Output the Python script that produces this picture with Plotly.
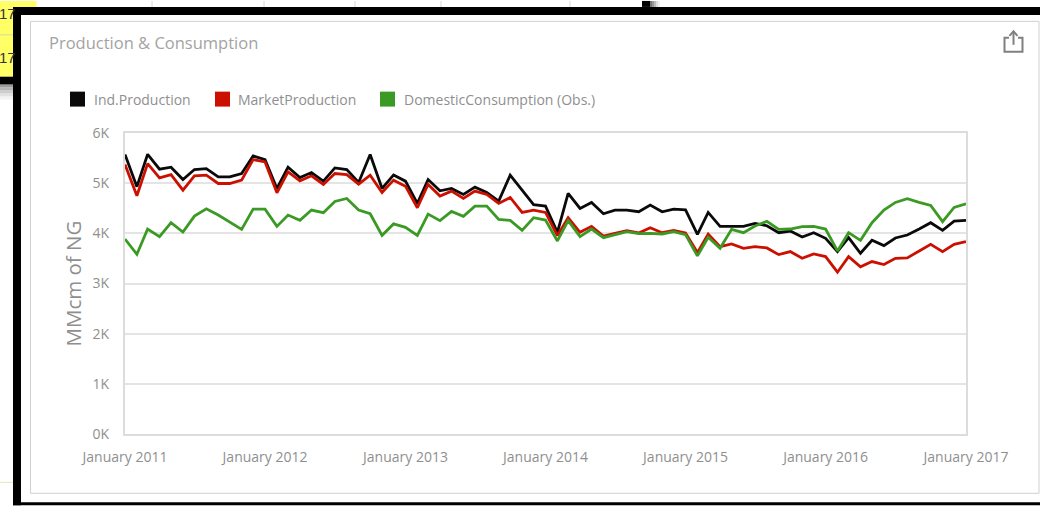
import pandas as pd
import plotly.graph_objects as go

TITLE = "Production & Consumption"
Y_TITLE = "MMcm of NG"
SERIES_NAMES = ["Ind.Production", "MarketProduction", "DomesticConsumption (Obs.)"]
SERIES_COLORS = ["#0a0a0a", "#cc1000", "#3a9a24"]
Y_TICK_VALUES = [0, 1000, 2000, 3000, 4000, 5000, 6000]
Y_TICK_LABELS = ["0K", "1K", "2K", "3K", "4K", "5K", "6K"]
DATES = pd.date_range("2011-01-01", "2017-01-01", freq="MS")

IND_PRODUCTION = [
    5570, 4930, 5576, 5278, 5318, 5073, 5272, 5291, 5126, 5126, 5192, 5543,
    5470, 4894, 5318, 5113, 5212, 5040, 5305, 5272, 5013, 5570, 4894, 5165,
    5040, 4596, 5073, 4848, 4894, 4775, 4920, 4815, 4642, 5159, 4860, 4570,
    4543, 4020, 4795, 4497, 4616, 4390, 4464, 4464, 4430, 4563, 4430, 4483,
    4467, 3980, 4417, 4139, 4139, 4139, 4199, 4152, 4013, 4046, 3927, 4013,
    3900, 3636, 3914, 3603, 3861, 3755, 3907, 3967, 4086, 4212, 4060, 4245,
    4258,
]
MARKET_PRODUCTION = [
    5370, 4748, 5390, 5106, 5172, 4861, 5146, 5159, 4993, 4993, 5060, 5470,
    5424, 4808, 5225, 5046, 5146, 4974, 5192, 5172, 4980, 5159, 4815, 5060,
    4940, 4510, 4974, 4742, 4841, 4695, 4841, 4775, 4596, 4715, 4417, 4464,
    4417, 3954, 4311, 4020, 4139, 3947, 4000, 4053, 4007, 4113, 4013, 4060,
    4005, 3616, 3987, 3735, 3788, 3702, 3735, 3709, 3576, 3636, 3503, 3589,
    3536, 3225, 3536, 3331, 3437, 3377, 3503, 3510, 3649, 3781, 3636, 3781,
    3834,
]
DOMESTIC_CONSUMPTION = [
    3887, 3583, 4086, 3934, 4212, 4026, 4344, 4490, 4364, 4218, 4079, 4483,
    4483, 4139, 4364, 4258, 4464, 4411, 4636, 4695, 4464, 4390, 3960, 4188,
    4120, 3960, 4384, 4252, 4437, 4338, 4543, 4543, 4278, 4258, 4060, 4311,
    4265, 3848, 4252, 3934, 4086, 3914, 3974, 4033, 3993, 4000, 3987, 4033,
    3975, 3550, 3921, 3702, 4079, 4013, 4146, 4238, 4079, 4086, 4132, 4139,
    4086, 3649, 4013, 3861, 4212, 4464, 4616, 4689, 4616, 4556, 4232, 4517,
    4589,
]

W, H = 1040, 506
L, R, T, B = 125, 966, 132.5, 434.5
def px(x): return (x - L) / (R - L)
def py(y): return (B - y) / (B - T)
TEXT = "#8f8f8f"
FONT = "Open Sans"

shapes = []
def rect(x0, y0, x1, y1, fill, line=None):
    shapes.append(dict(type="rect", xref="paper", yref="paper", layer="below",
                       x0=px(x0), x1=px(x1), y0=py(y0), y1=py(y1),
                       fillcolor=fill, line=dict(width=1 if line else 0, color=line or fill)))
def vline(x, y0, y1, color):
    shapes.append(dict(type="line", xref="paper", yref="paper", layer="below",
                       x0=px(x), x1=px(x), y0=py(y0), y1=py(y1), line=dict(color=color, width=1)))

# Surrounding screenshot: spreadsheet cells and window frame
rect(0, 0, 36.5, 76, "#ffff66")
shapes.append(dict(type="line", xref="paper", yref="paper", layer="below", x0=px(0), x1=px(36), y0=py(34), y1=py(34),
                   line=dict(color="#d8d8a0", width=1)))
for x in [152, 264, 355, 441, 570]:
    vline(x, 0, 6, "#d8d8d8")
rect(642, 0, 650, 6, "#000000")
for i, c in enumerate(["#777777", "#999999", "#bbbbbb", "#dddddd", "#f0f0f0"]):
    rect(650 + 2 * i, 0, 652 + 2 * i, 6, c)
rect(0, 76, 13, 84, "#000000")
for i, c in enumerate(["#9a9a9a", "#b5b5b5", "#cdcdcd", "#e2e2e2", "#f3f3f3"]):
    rect(0, 84 + 3 * i, 13, 87 + 3 * i, c)
rect(0, 482.5, 13, 483.5, "#dfeab8")
rect(21, 14, 1040, 503, "#ffffff")
rect(13, 6, 1040, 14, "#000000")
rect(13, 6, 21, 506, "#000000")
rect(13, 503, 1040, 506, "#000000")
rect(30.5, 20.5, 1039, 494, "#ffffff", "#d0d0d0")

# Legend
for x0, color in zip([70, 215, 380], SERIES_COLORS):
    rect(x0, 91, x0 + 15, 106, color)

# Share icon
def P(pts):
    return " ".join(("M" if i == 0 else "L") + f"{px(a):.5f},{py(b):.5f}" for i, (a, b) in enumerate(pts))
for pts in [[(1009, 37), (1004.5, 37), (1004.5, 51), (1022.5, 51), (1022.5, 37), (1018, 37)],
            [(1013.5, 44), (1013.5, 31)],
            [(1009.5, 35), (1013.5, 30.5), (1017.5, 35)]]:
    shapes.append(dict(type="path", xref="paper", yref="paper", path=P(pts), line=dict(color="#808080", width=2)))

fig = go.Figure()
for name, vals, color in zip(SERIES_NAMES, [IND_PRODUCTION, MARKET_PRODUCTION, DOMESTIC_CONSUMPTION], SERIES_COLORS):
    fig.add_trace(go.Scatter(x=DATES, y=vals, name=name, mode="lines",
                             line=dict(color=color, width=2.8), showlegend=False))

annotations = [dict(xref="paper", yref="paper", x=px(47), y=py(42), text=TITLE, showarrow=False,
                    xanchor="left", yanchor="middle", font=dict(family=FONT, size=16.5, color="#a3a3a3"))]
for x0, name in zip([92, 236, 402], SERIES_NAMES):
    annotations.append(dict(xref="paper", yref="paper", x=px(x0), y=py(99), text=name, showarrow=False,
                            xanchor="left", yanchor="middle", font=dict(family=FONT, size=14, color=TEXT)))
for yy in [13, 57]:
    annotations.append(dict(xref="paper", yref="paper", x=px(-3), y=py(yy), text="17", showarrow=False,
                            xanchor="left", yanchor="middle", font=dict(family="Liberation Sans", size=15, color="#333333")))

fig.update_layout(
    width=W, height=H, autosize=False,
    margin=dict(l=L, r=W - R, t=T, b=H - B),
    paper_bgcolor="#ffffff", plot_bgcolor="#ffffff",
    font=dict(family=FONT, color=TEXT),
    shapes=shapes, annotations=annotations,
    xaxis=dict(range=[DATES[0], DATES[-1]], tick0=DATES[0], dtick="M12", tickformat="%B %Y",
               showgrid=False, ticks="", ticklabelstandoff=9, tickfont=dict(size=14, color=TEXT),
               showline=True, linecolor="#dcdcdc", linewidth=2, mirror=True, zeroline=False),
    yaxis=dict(range=[0, 6000], tickvals=Y_TICK_VALUES, ticktext=Y_TICK_LABELS,
               gridcolor="#e4e4e4", gridwidth=1.5, ticks="", ticklabelstandoff=11,
               tickfont=dict(size=14, color=TEXT),
               showline=True, linecolor="#dcdcdc", linewidth=2, mirror=True, zeroline=False,
               title=dict(text=Y_TITLE, font=dict(size=20.5, color=TEXT), standoff=5)),
)
fig.write_html("out.html", config=dict(displayModeBar=False),
               post_script="document.body.style.margin='0';document.documentElement.style.overflow='hidden';")
